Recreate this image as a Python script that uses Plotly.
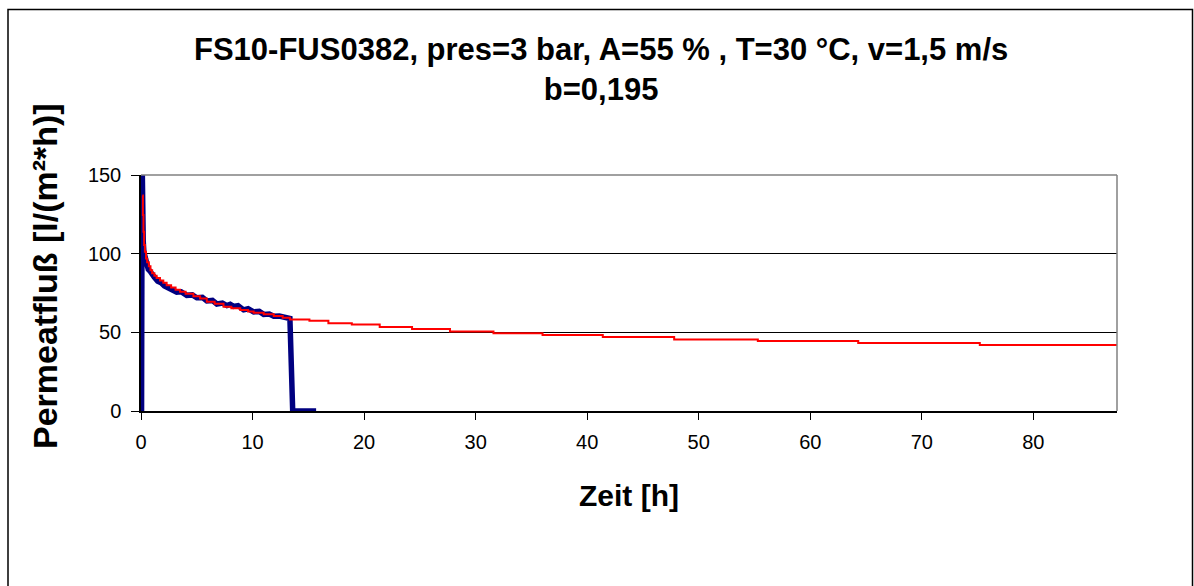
import plotly.graph_objects as go

# Measured permeate flux (blue) – time in hours, flux in l/(m²*h)
mess_t = [0.05, 0.10, 0.14, 0.20, 0.26, 0.35, 0.45, 0.55, 0.65, 0.80, 1.00, 1.20,
          1.50, 1.80, 2.10, 2.40, 2.80, 3.20, 3.60, 4.10, 4.60, 5.00, 5.50, 5.90,
          6.40, 6.80, 7.30, 7.70, 8.00, 8.30, 8.70, 9.20, 9.60, 10.10, 10.60,
          11.00, 11.50, 11.90, 12.40, 12.80, 13.35, 13.60, 14.50, 15.70]
mess_v = [0.0, 160.0, 128.0, 108.0, 101.0, 98.0, 93.5, 92.5, 90.0, 89.0, 86.0, 85.0,
          82.5, 81.5, 79.5, 78.5, 77.5, 75.5, 75.8, 73.5, 73.8, 72.0, 72.2, 70.0,
          70.3, 68.0, 68.6, 67.0, 67.8, 66.5, 67.0, 64.3, 65.0, 63.0, 63.3,
          61.4, 61.6, 60.2, 60.3, 59.3, 58.8, 0.0, 0.0, 0.0]

# Fitted flux curve (red), exponent b = 0,195
fit_t = [0.12, 0.17, 0.22, 0.28, 0.35, 0.45, 0.55, 0.70, 0.85, 1.00, 1.20, 1.40,
         1.70, 2.00, 2.30, 2.70, 3.10, 3.50, 4.00, 4.70, 5.30, 5.90, 6.60, 7.40,
         8.10, 8.90, 9.60, 10.10, 11.00, 11.90, 12.70, 13.35, 15.10, 16.80,
         18.90, 21.40, 24.30, 27.70, 31.60, 36.00, 41.40, 47.80, 55.30, 64.30,
         75.20, 88.00]
fit_v = [137.0, 124.5, 114.0, 105.5, 101.2, 97.0, 94.5, 92.0, 89.5, 87.5, 86.0, 84.5,
         83.0, 81.5, 80.0, 78.5, 77.0, 75.8, 74.5, 73.0, 71.5, 69.4, 68.2, 66.3,
         65.3, 64.2, 63.3, 62.5, 61.5, 60.4, 59.2, 58.2, 57.4, 55.8,
         54.9, 53.4, 52.1, 50.6, 49.4, 48.3, 47.0, 45.5, 44.5, 43.2,
         41.9, 40.6]

x_ticks = [0, 10, 20, 30, 40, 50, 60, 70, 80]
y_ticks = [0, 50, 100, 150]

W, H = 1194, 586
L, R, T, B = 141, 77, 175, 175
plot_w = W - L - R
plot_h = H - T - B


def px_x(px):
    return (px - L) / plot_w


def px_y(py):
    return (H - B - py) / plot_h


FONT = "Liberation Sans, Arial, sans-serif"

fig = go.Figure()
fig.add_trace(go.Scatter(
    x=mess_t, y=mess_v, mode="lines",
    line=dict(color="#000080", width=5.5),
    showlegend=False,
))
fig.add_trace(go.Scatter(
    x=fit_t, y=fit_v, mode="lines",
    line=dict(color="#FF0000", width=2, shape="hv"),
    showlegend=False,
))

# outer chart frame (bottom edge runs below the page)
fig.add_shape(type="rect", xref="paper", yref="paper",
              x0=px_x(8), x1=px_x(1192.5), y0=-1.0, y1=px_y(9.5),
              line=dict(color="#000000", width=1.5), layer="below")
# grey top and right edges of the plot area
fig.add_shape(type="line", xref="paper", yref="paper", x0=0, x1=1, y0=1, y1=1,
              line=dict(color="#808080", width=1.5), layer="above")
fig.add_shape(type="line", xref="paper", yref="paper", x0=1, x1=1, y0=0, y1=1,
              line=dict(color="#808080", width=1.5), layer="above")

annotations = [
    dict(text="<b>FS10-FUS0382, pres=3 bar, A=55 % , T=30 °C, v=1,5 m/s<br>b=0,195</b>",
         x=px_x(601), y=px_y(69.5), xanchor="center", yanchor="middle",
         font=dict(size=31, family=FONT, color="black")),
    dict(text="<b>Zeit [h]</b>", x=px_x(629), y=px_y(495),
         xanchor="center", yanchor="middle",
         font=dict(size=30, family=FONT, color="black")),
    dict(text="<b>Permeatfluß [l/(m²*h)]</b>", x=px_x(45), y=px_y(276),
         xanchor="center", yanchor="middle", textangle=-90,
         font=dict(size=34, family=FONT, color="black")),
]
for a in annotations:
    a.update(xref="paper", yref="paper", showarrow=False)

fig.update_layout(
    width=W, height=H,
    margin=dict(l=L, r=R, t=T, b=B),
    paper_bgcolor="white", plot_bgcolor="white",
    font=dict(family=FONT, color="black"),
    annotations=annotations,
    xaxis=dict(
        range=[0, 87.5], tickvals=x_ticks, ticks="outside", ticklen=7,
        tickcolor="black", tickwidth=1,
        showline=True, linecolor="black", linewidth=1.5,
        showgrid=False, zeroline=False,
        tickfont=dict(size=20, family=FONT, color="black"),
        ticklabelstandoff=5,
    ),
    yaxis=dict(
        range=[0, 150], tickvals=y_ticks, ticks="outside", ticklen=8,
        tickcolor="black", tickwidth=1,
        showline=True, linecolor="black", linewidth=1.5,
        showgrid=True, gridcolor="black", gridwidth=1,
        zeroline=False,
        tickfont=dict(size=20, family=FONT, color="black"),
        ticklabelstandoff=6,
    ),
)

fig.write_html("out.html")
